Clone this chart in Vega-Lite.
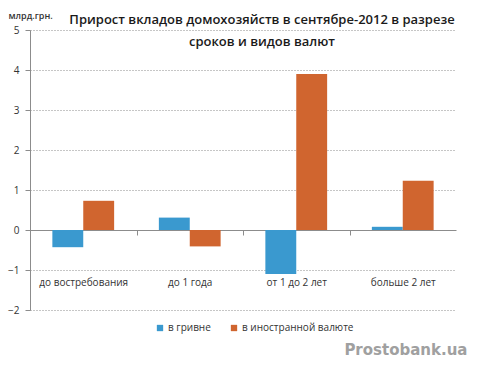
{
  "$schema": "https://vega.github.io/schema/vega-lite/v6.json",
  "width": 426,
  "height": 280,
  "autosize": {"type": "none"},
  "padding": {"left": 30, "top": 30, "right": 27, "bottom": 56},
  "background": "white",
  "title": {
    "text": ["Прирост вкладов домохозяйств в сентябре-2012 в разрезе", "сроков и видов валют"],
    "anchor": "middle",
    "dx": 19,
    "offset": -38,
    "font": "Open Sans",
    "fontSize": 13,
    "fontWeight": 600,
    "color": "#1a1a1a",
    "lineHeight": 22
  },
  "data": {
    "values": [
      {"term": "до востребования", "currency": "в гривне", "value": -0.43},
      {"term": "до востребования", "currency": "в иностранной валюте", "value": 0.73},
      {"term": "до 1 года", "currency": "в гривне", "value": 0.31},
      {"term": "до 1 года", "currency": "в иностранной валюте", "value": -0.41},
      {"term": "от 1 до 2 лет", "currency": "в гривне", "value": -1.1},
      {"term": "от 1 до 2 лет", "currency": "в иностранной валюте", "value": 3.9},
      {"term": "больше 2 лет", "currency": "в гривне", "value": 0.08},
      {"term": "больше 2 лет", "currency": "в иностранной валюте", "value": 1.23}
    ]
  },
  "mark": {"type": "bar"},
  "encoding": {
    "x": {
      "field": "term",
      "type": "nominal",
      "sort": null,
      "scale": {"paddingInner": 0.42, "paddingOuter": 0.21},
      "axis": {
        "orient": "bottom",
        "offset": -80,
        "labelAngle": 0,
        "labelPadding": 42,
        "labelFont": "Open Sans",
        "labelFontSize": 10,
        "labelColor": "#333333",
        "domainColor": "#8c8c8c",
        "tickColor": "#8c8c8c",
        "tickSize": 5,
        "tickOffset": -53.25,
        "labelOffset": 53.25,
        "title": "Prostobank.ua",
        "titleFont": "DejaVu Sans",
        "titleFontSize": 15,
        "titleFontWeight": "bold",
        "titleColor": "#a0a0a0",
        "titleAlign": "right",
        "titleAnchor": null,
        "titleX": 437,
        "titleY": 119,
        "titleBaseline": "middle"
      }
    },
    "xOffset": {"field": "currency", "type": "nominal", "scale": {"paddingInner": 0, "paddingOuter": 0}},
    "y": {
      "field": "value",
      "type": "quantitative",
      "scale": {"domain": [-2, 5], "nice": false},
      "axis": {
        "values": [-2, -1, 0, 1, 2, 3, 4, 5],
        "format": "d",
        "labelFont": "Open Sans",
        "labelFontSize": 10,
        "labelColor": "#333333",
        "labelPadding": 6,
        "tickSize": 5,
        "tickColor": "#8c8c8c",
        "domainColor": "#8c8c8c",
        "grid": true,
        "gridColor": "#8c8c8c",
        "gridDash": [1, 2],
        "title": "млрд.грн.",
        "titleAngle": 0,
        "titleAlign": "left",
        "titleBaseline": "middle",
        "titleX": -22,
        "titleY": -15,
        "titleFont": "Open Sans",
        "titleFontSize": 9,
        "titleFontWeight": 600,
        "titleColor": "#333333"
      }
    },
    "color": {
      "field": "currency",
      "type": "nominal",
      "scale": {"domain": ["в гривне", "в иностранной валюте"], "range": ["#3a99cf", "#d0652f"]},
      "legend": {
        "title": null,
        "orient": "none",
        "direction": "horizontal",
        "legendX": 125,
        "legendY": 293,
        "symbolType": "square",
        "symbolSize": 40,
        "symbolStrokeWidth": 0,
        "labelFont": "Open Sans",
        "labelFontSize": 10,
        "labelColor": "#333333",
        "columnPadding": 18,
        "labelOffset": 3
      }
    }
  },
  "config": {"view": {"stroke": null}}
}
